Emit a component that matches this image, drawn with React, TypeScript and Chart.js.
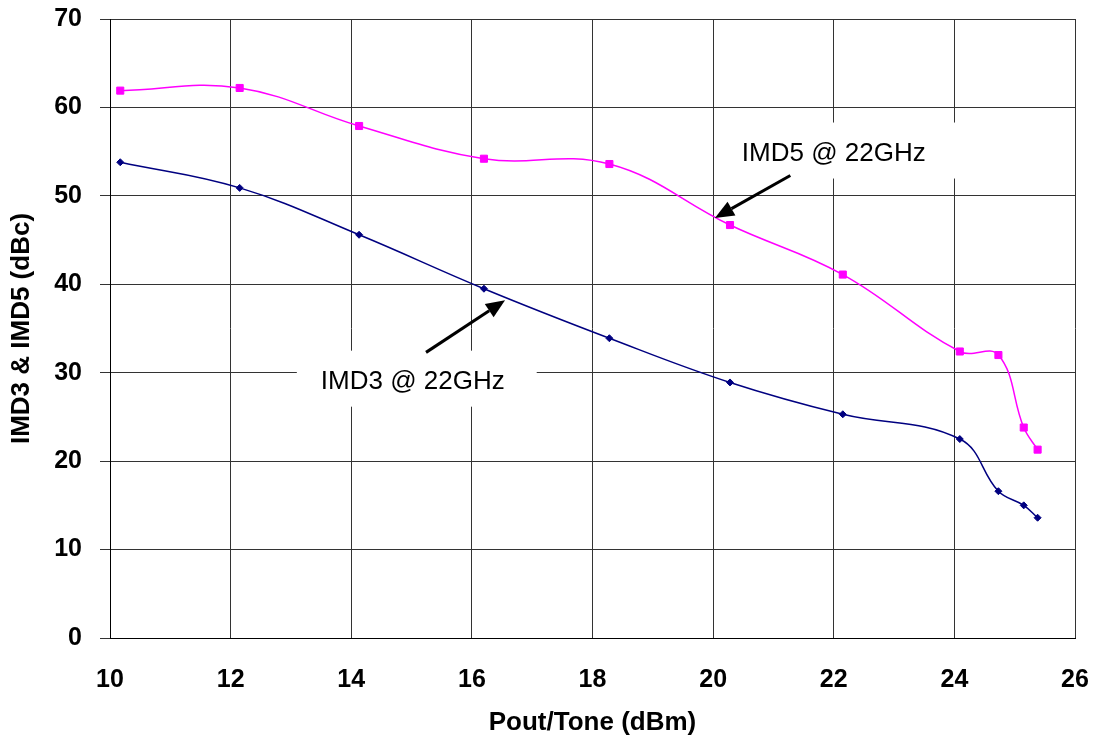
import React, { useEffect, useRef } from "react";
import { Chart, registerables } from "chart.js";

Chart.register(...registerables);

const poutTone = [10.17, 12.15, 14.13, 16.2, 18.28, 20.28, 22.15, 24.09, 24.73, 25.15, 25.38];
const imd3 = [53.8, 50.9, 45.6, 39.5, 33.9, 28.9, 25.3, 22.5, 16.6, 15.0, 13.6];
const imd5 = [61.9, 62.2, 57.9, 54.2, 53.6, 46.7, 41.1, 32.4, 32.0, 23.8, 21.3];

const xTitle = "Pout/Tone (dBm)";
const yTitle = "IMD3 & IMD5 (dBc)";

// annotations in data coordinates
const labelTexts = ["IMD3 @ 22GHz", "IMD5 @ 22GHz"];
const labelX = [15.02, 22.0];
const labelY = [29.1, 54.9];
const arrowFromX = [15.24, 21.28];
const arrowFromY = [32.3, 52.3];
const arrowToX = [16.55, 20.03];
const arrowToY = [38.2, 47.5];

const FONT = "'Liberation Sans', Arial, sans-serif";

const labelPlugin = {
  id: "labelBoxes",
  beforeDatasetsDraw(chart: any) {
    const { ctx, scales } = chart;
    ctx.save();
    ctx.font = `26px ${FONT}`;
    ctx.textAlign = "center";
    ctx.textBaseline = "middle";
    labelTexts.forEach((t, i) => {
      const px = scales.x.getPixelForValue(labelX[i]);
      const py = scales.y.getPixelForValue(labelY[i]);
      const w = ctx.measureText(t).width + 56;
      const h = 56;
      ctx.fillStyle = "#ffffff";
      ctx.fillRect(px - w / 2 + 4, py - h / 2 - 2, w, h);
      ctx.fillStyle = "#000000";
      ctx.fillText(t, px, py + 1);
    });
    ctx.restore();
  },
  afterDatasetsDraw(chart: any) {
    const { ctx, scales } = chart;
    ctx.save();
    ctx.strokeStyle = "#000";
    ctx.fillStyle = "#000";
    ctx.lineWidth = 3;
    arrowFromX.forEach((_, i) => {
      const x1 = scales.x.getPixelForValue(arrowFromX[i]);
      const y1 = scales.y.getPixelForValue(arrowFromY[i]);
      const x2 = scales.x.getPixelForValue(arrowToX[i]);
      const y2 = scales.y.getPixelForValue(arrowToY[i]);
      const ang = Math.atan2(y2 - y1, x2 - x1);
      const headLen = 19;
      const headW = 8;
      const bx = x2 - headLen * Math.cos(ang);
      const by = y2 - headLen * Math.sin(ang);
      ctx.beginPath();
      ctx.moveTo(x1, y1);
      ctx.lineTo(bx, by);
      ctx.stroke();
      ctx.beginPath();
      ctx.moveTo(x2, y2);
      ctx.lineTo(bx + headW * Math.sin(ang), by - headW * Math.cos(ang));
      ctx.lineTo(bx - headW * Math.sin(ang), by + headW * Math.cos(ang));
      ctx.closePath();
      ctx.fill();
    });
    ctx.restore();
  },
};

export default function App() {
  const ref = useRef<HTMLCanvasElement>(null);
  useEffect(() => {
    document.body.style.margin = "0";
    const chart = new Chart(ref.current as HTMLCanvasElement, {
      type: "line",
      data: {
        datasets: [
          {
            label: "IMD3",
            data: poutTone.map((x, i) => ({ x, y: imd3[i] })),
            borderColor: "#000080",
            backgroundColor: "#000080",
            borderWidth: 1.5,
            pointStyle: "rectRot",
            pointRadius: 3.5,
            pointBorderWidth: 1,
            tension: 0.4,
          },
          {
            label: "IMD5",
            data: poutTone.map((x, i) => ({ x, y: imd5[i] })),
            borderColor: "#ff00ff",
            backgroundColor: "#ff00ff",
            borderWidth: 1.5,
            pointStyle: "rect",
            pointRadius: 5,
            pointBorderWidth: 1,
            tension: 0.4,
          },
        ],
      },
      options: {
        responsive: false,
        animation: false,
        layout: { padding: { top: 19, right: 19, left: 0, bottom: 0 } },
        plugins: { legend: { display: false }, tooltip: { enabled: false } },
        scales: {
          x: {
            type: "linear",
            min: 10,
            max: 26,
            afterFit(s: any) {
              s.height = 102;
              s.paddingLeft = 0;
              s.paddingRight = 0;
            },
            ticks: {
              stepSize: 2,
              padding: 27,
              color: "#000",
              font: { family: FONT, size: 25, weight: "bold" },
            },
            grid: { color: "#333", lineWidth: 1, drawTicks: false },
            border: { color: "#000", width: 1 },
            title: {
              display: true,
              text: xTitle,
              color: "#000",
              font: { family: FONT, size: 26, weight: "bold" },
              padding: { top: 0, bottom: 2 },
            },
          },
          y: {
            type: "linear",
            min: 0,
            max: 70,
            afterFit(s: any) {
              s.width = 110;
              s.paddingTop = 0;
              s.paddingBottom = 0;
            },
            ticks: {
              stepSize: 10,
              padding: 18,
              color: "#000",
              font: { family: FONT, size: 25, weight: "bold" },
            },
            grid: { color: "#333", lineWidth: 1, tickLength: 10 },
            border: { color: "#000", width: 1 },
            title: {
              display: true,
              text: yTitle,
              color: "#000",
              font: { family: FONT, size: 26, weight: "bold" },
              padding: { top: 6, bottom: 0 },
            },
          },
        },
      },
      plugins: [labelPlugin],
    });
    return () => chart.destroy();
  }, []);
  return (
    <div style={{ position: "absolute", left: 0, top: 0, width: 1094, height: 740, background: "#fff" }}>
      <canvas ref={ref} width={1094} height={740} />
    </div>
  );
}
